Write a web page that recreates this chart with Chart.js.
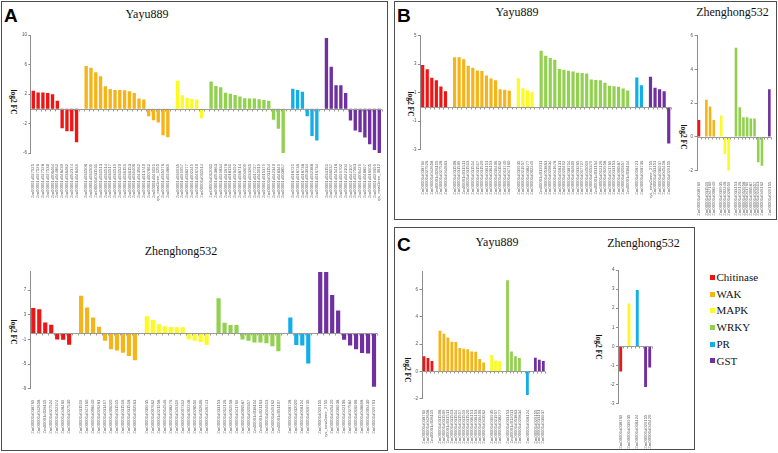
<!DOCTYPE html>
<html lang="en">
<head>
<meta charset="UTF-8">
<title>log2 FC of defence-related genes in Yayu889 and Zhenghong532</title>
<style>
  body { margin: 0; background: #fff; }
  #fig { position: relative; width: 778px; height: 453px; overflow: hidden; font-family: "Liberation Serif", "Times New Roman", serif; color: #111; }
  .panel { position: absolute; border: 1.5px solid #4d4d4d; box-sizing: border-box; }
  .letter { position: absolute; font: bold 19px/19px "Liberation Sans", Arial, sans-serif; color: #000; }
  .title { position: absolute; font-size: 12px; line-height: 12px; transform: translateX(-50%); white-space: nowrap; }
  .ylab { position: absolute; font: bold 7.5px/8px "Liberation Serif", serif; transform: translate(-50%, -50%) rotate(90deg); white-space: nowrap; }
  canvas { position: absolute; }
  .legend { position: absolute; left: 710px; top: 269px; font-size: 11px; line-height: 16.7px; }
  .legend div { display: flex; align-items: center; white-space: nowrap; }
  .legend span.sw { display: inline-block; width: 5px; height: 5px; margin-right: 1.5px; }
</style>
</head>
<body>
<div id="fig">
  <div class="panel" style="left:1px;top:1px;width:387px;height:450px"></div>
  <div class="panel" style="left:394px;top:1px;width:383px;height:219px"></div>
  <div class="panel" style="left:394px;top:227px;width:301px;height:223px"></div>

  <div class="letter" style="left:4px;top:6px">A</div>
  <div class="letter" style="left:397px;top:6px">B</div>
  <div class="letter" style="left:397px;top:235px">C</div>

  <div class="title" style="left:147px;top:7.5px">Yayu889</div>
  <div class="title" style="left:181px;top:244.5px">Zhenghong532</div>
  <div class="title" style="left:517px;top:6px">Yayu889</div>
  <div class="title" style="left:732.5px;top:5.5px">Zhenghong532</div>
  <div class="title" style="left:497px;top:236px">Yayu889</div>
  <div class="title" style="left:643.5px;top:237px">Zhenghong532</div>

  <div class="ylab" style="left:13px;top:102px">log2 FC</div>
  <div class="ylab" style="left:13px;top:332px">log2 FC</div>
  <div class="ylab" style="left:410px;top:104px">log2 FC</div>
  <div class="ylab" style="left:683px;top:137px">log2 FC</div>
  <div class="ylab" style="left:407px;top:370px">log2 FC</div>
  <div class="ylab" style="left:597.5px;top:347px">log2 FC</div>

  <canvas id="yayuA"></canvas>
  <canvas id="zhengA"></canvas>
  <canvas id="yayuB"></canvas>
  <canvas id="zhengB"></canvas>
  <canvas id="yayuC"></canvas>
  <canvas id="zhengC"></canvas>

  <div class="legend" id="legend"></div>
</div>

<script src="https://cdn.jsdelivr.net/npm/chart.js"></script>
<script>
// gene families, in plotting order
const FAMILIES = ['Chitinase', 'WAK', 'MAPK', 'WRKY', 'PR', 'GST'];

// ---- A: Yayu889 (bars per family: 10, 18, 6, 16, 6, 12)
const yayuA_counts = [10, 18, 6, 16, 6, 12];
const yayuA_fc = [
  2.44, 2.2, 2.2, 2.13, 1.95, 1.08, -2.65, -3.05, -3.05, -4.55,
  5.8, 5.55, 4.95, 4.42, 3.05, 2.68, 2.55, 2.53, 2.5, 2.36, 2.12, 1.4, 1.24, -1.0, -1.55, -1.85, -3.6, -3.85,
  3.8, 1.82, 1.46, 1.33, 1.24, -1.28,
  3.7, 3.1, 2.92, 2.18, 2.04, 1.87, 1.65, 1.42, 1.38, 1.38, 1.3, 1.17, 1.08, -1.5, -2.7, -6.0,
  2.7, 2.55, 2.3, -1.0, -3.7, -4.3,
  9.6, 5.7, 3.2, 3.2, 2.15, -1.6, -2.95, -3.2, -3.9, -4.8, -5.6, -6.0
];
const yayuA_genes = [
  'Zm00001d027525', 'Zm00001d027526', 'Zm00001d027528', 'Zm00001d027530', 'Zm00001d006464', 'Zm00001d044862', 'Zm00001d048430', 'Zm00001d036482', 'Zm00001d052374', 'Zm00001d048469',
  'Zm00001d031508', 'Zm00001d031509', 'Zm00001d031511', 'Zm00001d031513', 'Zm00001d031514', 'Zm00001d031517', 'Zm00001d031519', 'Zm00001d031520', 'Zm00001d036151', 'Zm00001d036153', 'Zm00001d039406', 'Zm00001d043562', 'Zm00001d013740', 'Zm00001d007862', 'Zm00001d049021', 'Zea_mays_newGene_1255', 'Zm00001d035276', 'Zm00001d024889',
  'Zm00001d039935', 'Zm00001d021957', 'Zm00001d038277', 'Zm00001d002249', 'Zm00001d046740', 'Zm00001d011514',
  'Zm00001d012011', 'Zm00001d053863', 'Zm00001d029834', 'Zm00001d041678', 'Zm00001d018131', 'Zm00001d020492', 'Zm00001d038714', 'Zm00001d004609', 'Zm00001d033265', 'Zm00001d017727', 'Zm00001d045019', 'Zm00001d015379', 'Zm00001d031154', 'Zm00001d042340', 'Zm00001d048349', 'Zm00001d003857',
  'Zm00001d018721', 'Zm00001d018736', 'Zm00001d018738', 'Zm00001d053934', 'Zm00001d032388', 'Zm00001d016734',
  'Zm00001d033151', 'Zm00001d036937', 'Zm00001d045418', 'Zm00001d029702', 'Zm00001d042104', 'Zm00001d042107', 'Zm00001d027583', 'Zm00001d009429', 'Zm00001d048897', 'Zm00001d016905', 'Zm00001d029699', 'Zea_mays_newGene_3612'
];
const yayuA_ticks = [-6, -2, 2, 6, 10];

// ---- A: Zhenghong532
const zhengA_counts = [7, 10, 11, 11, 4, 10];
const zhengA_fc = [
  4.1, 3.9, 1.75, 1.4, -1.0, -1.05, -1.85,
  6.1, 4.2, 2.55, 1.05, -1.2, -2.6, -2.8, -3.15, -3.7, -4.4,
  2.75, 2.15, 1.45, 1.15, 1.0, 0.97, 0.97, -1.0, -1.2, -1.4, -1.9,
  5.7, 1.7, 1.35, 1.35, -1.0, -1.2, -1.5, -1.5, -1.6, -2.1, -2.9,
  2.55, -1.9, -2.0, -4.9,
  9.95, 9.95, 6.2, 3.7, -1.05, -2.0, -2.6, -3.2, -3.3, -8.7
];
const zhengA_genes = [
  'Zm00001d038769', 'Zm00001d042658', 'Zm00001d028115', 'Zm00001d027524', 'Zm00001d052374', 'Zm00001d048469', 'Zm00001d027530',
  'Zm00001d031519', 'Zm00001d047160', 'Zm00001d008940', 'Zm00001d026281', 'Zm00001d031497', 'Zm00001d006020', 'Zm00001d031515', 'Zm00001d031516', 'Zm00001d031518', 'Zm00001d002563',
  'Zm00001d039935', 'Zm00001d007662', 'Zm00001d021958', 'Zm00001d014546', 'Zm00001d038276', 'Zm00001d049319', 'Zm00001d007312', 'Zm00001d002248', 'Zm00001d028559', 'Zm00001d052606', 'Zm00001d046741',
  'Zm00001d033153', 'Zm00001d012126', 'Zm00001d052958', 'Zm00001d041769', 'Zm00001d006587', 'Zm00001d020357', 'Zm00001d038114', 'Zm00001d021163', 'Zm00001d024613', 'Zm00001d049162', 'Zm00001d051107',
  'Zm00001d018728', 'Zm00001d032020', 'Zm00001d018124', 'Zm00001d016735',
  'Zm00001d029155', 'Zea_mays_newGene_2755', 'Zm00001d045420', 'Zm00001d036938', 'Zm00001d042106', 'Zm00001d027584', 'Zm00001d016906', 'Zm00001d048898', 'Zm00001d009430', 'Zm00001d029701'
];
const zhengA_ticks = [-9, -5, -1, 3, 7];

// ---- B: Yayu889
const yayuB_counts = [6, 13, 4, 20, 2, 5];
const yayuB_fc = [
  2.94, 2.64, 2.05, 1.88, 1.44, 1.11,
  3.48, 3.48, 3.34, 2.89, 2.75, 2.56, 2.52, 2.21, 2.0, 1.88, 1.25, 1.2, 1.13,
  2.02, 1.32, 1.18, 1.04,
  3.95, 3.6, 3.43, 3.32, 2.66, 2.61, 2.54, 2.49, 2.4, 2.38, 2.35, 1.93, 1.9, 1.88, 1.69, 1.48, 1.46, 1.41, 1.29, 1.15,
  2.07, 1.53,
  2.12, 1.34, 1.25, 1.1, -2.56
];
const yayuB_genes = [
  'Zm00001d038769', 'Zm00001d027526', 'Zm00001d042658', 'Zm00001d028115', 'Zm00001d027528', 'Zm00001d044863',
  'Zm00001d031508', 'Zm00001d031509', 'Zm00001d031511', 'Zm00001d031513', 'Zm00001d031514', 'Zm00001d031517', 'Zm00001d031520', 'Zm00001d036151', 'Zm00001d036153', 'Zm00001d039406', 'Zm00001d043562', 'Zm00001d013740', 'Zm00001d047160',
  'Zm00001d039935', 'Zm00001d021957', 'Zm00001d038277', 'Zm00001d002249',
  'Zm00001d012011', 'Zm00001d053863', 'Zm00001d029834', 'Zm00001d041678', 'Zm00001d018131', 'Zm00001d020492', 'Zm00001d038714', 'Zm00001d004609', 'Zm00001d033265', 'Zm00001d017727', 'Zm00001d045019', 'Zm00001d015379', 'Zm00001d031154', 'Zm00001d012126', 'Zm00001d052958', 'Zm00001d041769', 'Zm00001d033153', 'Zm00001d006587', 'Zm00001d020357', 'Zm00001d038114',
  'Zm00001d018721', 'Zm00001d018736',
  'Zea_mays_newGene_2755', 'Zm00001d033151', 'Zm00001d036937', 'Zm00001d045418', 'Zm00001d029155'
];
const yayuB_ticks = [-3, -1, 1, 3, 5];

// ---- B: Zhenghong532
const zhengB_counts = [1, 3, 3, 8, 0, 1];
const zhengB_fc = [
  1.01,
  2.2, 1.8, 1.01,
  1.27, -1.01, -2.0,
  5.29, 1.76, 1.17, 1.17, 1.09, 1.09, -1.5, -1.7,
  2.83
];
const zhengB_genes = [
  'Zm00001d038769',
  'Zm00001d031519', 'Zm00001d047160', 'Zm00001d008940',
  'Zm00001d039935', 'Zm00001d002248', 'Zm00001d028559',
  'Zm00001d033153', 'Zm00001d012126', 'Zm00001d052958', 'Zm00001d041769', 'Zm00001d006587', 'Zm00001d020357', 'Zm00001d024613', 'Zm00001d049162',
  'Zm00001d029155'
];
const zhengB_ticks = [-2, 0, 2, 4, 6];

// ---- C: Yayu889
const yayuC_counts = [3, 12, 3, 4, 1, 3];
const yayuC_fc = [
  1.1, 0.98, 0.76,
  2.98, 2.76, 2.49, 2.17, 2.15, 1.71, 1.66, 1.63, 1.46, 1.44, 0.9, 0.66,
  1.2, 0.8, 0.75,
  6.68, 1.46, 1.1, 0.98,
  -1.73,
  1.0, 0.85, 0.76
];
const yayuC_genes = [
  'Zm00001d038769', 'Zm00001d042658', 'Zm00001d028115',
  'Zm00001d031508', 'Zm00001d031509', 'Zm00001d031511', 'Zm00001d031513', 'Zm00001d031514', 'Zm00001d031517', 'Zm00001d031519', 'Zm00001d031520', 'Zm00001d036151', 'Zm00001d036153', 'Zm00001d039406', 'Zm00001d043562',
  'Zm00001d039935', 'Zm00001d021957', 'Zm00001d038277',
  'Zm00001d033153', 'Zm00001d012011', 'Zm00001d053863', 'Zm00001d029834',
  'Zm00001d018124',
  'Zm00001d029155', 'Zm00001d033151', 'Zm00001d036937'
];
const yayuC_ticks = [-2, 0, 2, 4, 6];

// ---- C: Zhenghong532
const zhengC_counts = [1, 0, 1, 0, 1, 2];
const zhengC_fc = [-1.31, 2.25, 2.95, -2.13, -1.1];
const zhengC_genes = ['Zm00001d038769', 'Zm00001d039935', 'Zm00001d018124', 'Zm00001d029155', 'Zm00001d045420'];
const zhengC_ticks = [-3, -2, -1, 0, 1, 2, 3, 4];

// ---- styling / layout
const FAMILY_COLORS = ['#f01414', '#f4b41a', '#fbfb22', '#92d050', '#12aee8', '#7030a0'];
const YW = 16, XH = 48, PT = 6, PR = 4;

// [left, top, right, bottom] of each plot area on the page
const AREAS = {
  yayuA: [30.9, 35, 381.7, 153],
  zhengA: [30.3, 271.7, 377, 388.7],
  yayuB: [420.4, 35.7, 671, 149.7],
  zhengB: [697.1, 35.7, 771.2, 170.7],
  yayuC: [422, 271.7, 545.3, 398.7],
  zhengC: [618.6, 270, 651.8, 403.7]
};

// zero line with small category tick marks
const zeroAxis = {
  id: 'zeroAxis',
  afterDatasetsDraw(chart) {
    const { ctx, chartArea: a, scales: { x, y } } = chart;
    const y0 = Math.round(y.getPixelForValue(0)) + 0.5;
    const n = x.getLabels().length;
    const step = (a.right - a.left) / n;
    ctx.save();
    ctx.strokeStyle = '#9a9a9a';
    ctx.lineWidth = 1;
    ctx.beginPath();
    ctx.moveTo(a.left, y0);
    ctx.lineTo(a.right, y0);
    for (let i = 1; i <= n; i++) {
      const px = Math.round(a.left + i * step) + 0.5;
      ctx.moveTo(px, y0);
      ctx.lineTo(px, y0 + 2);
    }
    ctx.stroke();
    ctx.restore();
  }
};

function buildSeries(genes, fc, counts) {
  const labels = [], values = [], colors = [];
  let k = 0, first = true;
  counts.forEach((n, f) => {
    if (!n) return;
    if (!first) { labels.push(''); values.push(null); colors.push('rgba(0,0,0,0)'); }
    first = false;
    for (let i = 0; i < n; i++, k++) {
      labels.push(genes[k]);
      values.push(fc[k]);
      colors.push(FAMILY_COLORS[f]);
    }
  });
  return { labels, values, colors };
}

function drawChart(id, genes, fc, counts, ticks, min, max) {
  const [l, t, r, b] = AREAS[id];
  const cl = Math.floor(l - YW), ct = Math.floor(t - PT);
  const cw = Math.ceil(r + PR) - cl, ch = Math.ceil(b + XH) - ct;
  const canvas = document.getElementById(id);
  canvas.width = cw; canvas.height = ch;
  canvas.style.left = cl + 'px'; canvas.style.top = ct + 'px';
  canvas.style.width = cw + 'px'; canvas.style.height = ch + 'px';

  const s = buildSeries(genes, fc, counts);
  new Chart(canvas, {
    type: 'bar',
    data: {
      labels: s.labels,
      datasets: [{ data: s.values, backgroundColor: s.colors, barPercentage: 0.7, categoryPercentage: 1 }]
    },
    options: {
      responsive: false,
      animation: false,
      devicePixelRatio: 1,
      layout: { padding: { left: l - YW - cl, top: t - ct, right: cl + cw - r, bottom: ct + ch - b - XH } },
      plugins: { legend: { display: false }, tooltip: { enabled: false } },
      scales: {
        x: {
          grid: { display: false },
          border: { display: false },
          ticks: {
            autoSkip: false, minRotation: 90, maxRotation: 90, padding: 3,
            font: { family: 'Liberation Sans', size: 4.2 }, color: '#666'
          },
          afterFit: sc => { sc.height = XH; sc.paddingLeft = 0; sc.paddingRight = 0; }
        },
        y: {
          min: min, max: max,
          afterBuildTicks: sc => { sc.ticks = ticks.map(v => ({ value: v })); },
          afterFit: sc => { sc.width = YW; },
          border: { color: '#8c8c8c', width: 1 },
          grid: { drawOnChartArea: false, drawTicks: true, tickLength: 2.5, color: '#8c8c8c' },
          ticks: { font: { family: 'Liberation Sans', size: 4.5 }, color: '#555', padding: 1.5 }
        }
      }
    },
    plugins: [zeroAxis]
  });
}

drawChart('yayuA', yayuA_genes, yayuA_fc, yayuA_counts, yayuA_ticks, -6, 10);
drawChart('zhengA', zhengA_genes, zhengA_fc, zhengA_counts, zhengA_ticks, -9, 10);
drawChart('yayuB', yayuB_genes, yayuB_fc, yayuB_counts, yayuB_ticks, -3, 5);
drawChart('zhengB', zhengB_genes, zhengB_fc, zhengB_counts, zhengB_ticks, -2, 6);
drawChart('yayuC', yayuC_genes, yayuC_fc, yayuC_counts, yayuC_ticks, -2, 7.3);
drawChart('zhengC', zhengC_genes, zhengC_fc, zhengC_counts, zhengC_ticks, -3, 4);

// legend
const legend = document.getElementById('legend');
FAMILIES.forEach((name, i) => {
  const row = document.createElement('div');
  row.innerHTML = '<span class="sw" style="background:' + FAMILY_COLORS[i] + '"></span>' + name;
  legend.appendChild(row);
});
</script>
</body>
</html>
